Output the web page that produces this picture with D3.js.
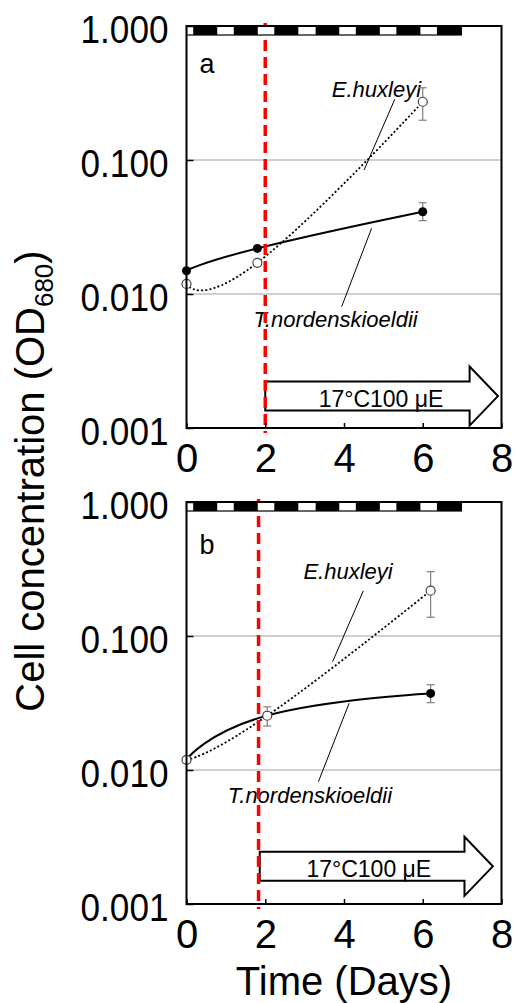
<!DOCTYPE html>
<html>
<head>
<meta charset="utf-8">
<script src="https://cdn.jsdelivr.net/npm/d3@7"></script>
<style>
  body { margin: 0; background: #fff; }
  text { font-family: "Liberation Sans", Arial, sans-serif; }
</style>
</head>
<body>
<script>

// axis ticks
var yTicks = [1, 0.1, 0.01, 0.001];
var xTicks = [0, 2, 4, 6, 8];
var gridValues = [0.1, 0.01];

// light / dark cycle (days), dark parts
var darkPeriods = [[0.17, 0.78], [1.2, 1.81], [2.23, 2.84], [3.28, 3.88], [4.3, 4.91], [5.33, 5.94], [6.36, 6.98]];
var cycleEnd = 6.98;

// panel a
var daysA = [0, 1.8, 6.0];
var tnordA = [0.0149, 0.0219, 0.0411];
var tnordErrA = [null, null, [0.0353, 0.048]];
var ehuxA = [0.0119, 0.0171, 0.272];
var ehuxErrA = [null, null, [0.198, 0.346]];

// panel b
var daysB = [0, 2.05, 6.2];
var tnordB = [0.0119, 0.0255, 0.0373];
var tnordErrB = [null, null, [0.0318, 0.0433]];
var ehuxB = [0.0119, 0.0254, 0.218];
var ehuxErrB = [null, [0.0213, 0.0296], [0.138, 0.302]];

// shift day, arrow [start, head, tip] and its centre value
var shiftDayA = 2.0;
var shiftDayB = 1.83;
var arrowA = [2.0, 7.19, 7.91];
var arrowB = [1.86, 7.06, 7.78];
var arrowValueA = 0.00173;
var arrowValueB = 0.00191;
var arrowText = "17\u00B0C100 \u03BCE";

// species labels: [day, value] of text start, leader from/to
var labelsA = [
  { name: "E.huxleyi", at: [3.69, 0.295], lead: [[5.29, 0.284], [4.51, 0.0842]] },
  { name: "T.nordenskioeldii", at: [1.7, 0.00564], lead: [[4.7, 0.0309], [3.94, 0.00804]] }
];
var labelsB = [
  { name: "E.huxleyi", at: [2.97, 0.265], lead: [[4.49, 0.217], [3.71, 0.0643]] },
  { name: "T.nordenskioeldii", at: [1.05, 0.00564], lead: [[4.13, 0.0315], [3.35, 0.00818]] }
];

var svg = d3.select("body").append("svg")
  .attr("width", 515)
  .attr("height", 1003);

function drawPanel(p) {
  var x = d3.scaleLinear().domain([0, 8]).range([186.5, 501.5]);
  var y = d3.scaleLog().domain([0.001, 1]).range([p.top + 402, p.top]);
  var g = svg.append("g");

  // grid lines
  g.selectAll(".grid")
    .data(gridValues)
    .enter().append("line")
    .attr("x1", x(0)).attr("x2", x(8))
    .attr("y1", function(d) { return y(d); })
    .attr("y2", function(d) { return y(d); })
    .attr("stroke", "#a0a0a0")
    .attr("stroke-width", 1);

  var line = d3.line()
    .x(function(d) { return x(d[0]); })
    .y(function(d) { return y(d[1]); })
    .curve(d3.curveCardinal.tension(-0.5));

  g.append("path")
    .attr("d", line(d3.zip(p.days, p.tnord)))
    .attr("fill", "none")
    .attr("stroke", "#000")
    .attr("stroke-width", 2);

  g.append("path")
    .attr("d", line(d3.zip(p.days, p.ehux)))
    .attr("fill", "none")
    .attr("stroke", "#000")
    .attr("stroke-width", 1.8)
    .attr("stroke-dasharray", "2,2.2");

  // labels with leader lines
  p.labels.forEach(function(l) {
    g.append("line")
      .attr("x1", x(l.lead[0][0])).attr("y1", y(l.lead[0][1]))
      .attr("x2", x(l.lead[1][0])).attr("y2", y(l.lead[1][1]))
      .attr("stroke", "#000")
      .attr("stroke-width", 1);
    g.append("text")
      .attr("x", x(l.at[0]))
      .attr("y", y(l.at[1]))
      .attr("font-size", 22)
      .attr("font-style", "italic")
      .text(l.name);
  });

  // error bars
  function errBars(days, errs) {
    days.forEach(function(d, i) {
      var e = errs[i];
      if (!e) return;
      var cx = x(d);
      g.append("line")
        .attr("x1", cx).attr("x2", cx)
        .attr("y1", y(e[0])).attr("y2", y(e[1]))
        .attr("stroke", "#808080").attr("stroke-width", 1.2);
      e.forEach(function(v) {
        g.append("line")
          .attr("x1", cx - 4).attr("x2", cx + 4)
          .attr("y1", y(v)).attr("y2", y(v))
          .attr("stroke", "#808080").attr("stroke-width", 1.2);
      });
    });
  }
  errBars(p.days, p.tnordErr);
  errBars(p.days, p.ehuxErr);

  // markers
  g.selectAll(".filled")
    .data(d3.zip(p.days, p.tnord))
    .enter().append("circle")
    .attr("cx", function(d) { return x(d[0]); })
    .attr("cy", function(d) { return y(d[1]); })
    .attr("r", 4.5)
    .attr("fill", "#000");

  g.selectAll(".open")
    .data(d3.zip(p.days, p.ehux))
    .enter().append("circle")
    .attr("cx", function(d) { return x(d[0]); })
    .attr("cy", function(d) { return y(d[1]); })
    .attr("r", 4.5)
    .attr("fill", "#fff")
    .attr("stroke", "#444")
    .attr("stroke-width", 1.2);

  // condition arrow
  var xs = x(p.arrow[0]), xh = x(p.arrow[1]), xt = x(p.arrow[2]), yc = y(p.arrowValue);
  var path = d3.path();
  path.moveTo(xs, yc - 14.5);
  path.lineTo(xh, yc - 14.5);
  path.lineTo(xh, yc - 29.5);
  path.lineTo(xt, yc);
  path.lineTo(xh, yc + 29.5);
  path.lineTo(xh, yc + 14.5);
  path.lineTo(xs, yc + 14.5);
  path.closePath();
  g.append("path")
    .attr("d", path.toString())
    .attr("fill", "#fff")
    .attr("stroke", "#000")
    .attr("stroke-width", 2);
  g.append("text")
    .attr("x", x(p.arrowTextDay))
    .attr("y", yc + 10.7)
    .attr("text-anchor", "middle")
    .attr("font-size", 23)
    .text(arrowText);

  // red dashed shift line
  g.append("line")
    .attr("x1", x(p.shift)).attr("x2", x(p.shift))
    .attr("y1", y(1) - 3).attr("y2", y(0.001) + 5)
    .attr("stroke", "#ff0000")
    .attr("stroke-width", 3.5)
    .attr("stroke-dasharray", "11,6");

  // light/dark bar
  g.append("rect")
    .attr("x", x(0)).attr("y", y(1))
    .attr("width", x(cycleEnd) - x(0)).attr("height", 9)
    .attr("fill", "#fff")
    .attr("stroke", "#000")
    .attr("stroke-width", 1.2);
  g.selectAll(".dark")
    .data(darkPeriods)
    .enter().append("rect")
    .attr("x", function(d) { return x(d[0]); })
    .attr("y", y(1))
    .attr("width", function(d) { return x(d[1]) - x(d[0]); })
    .attr("height", 9)
    .attr("fill", "#000");

  // frame
  g.append("rect")
    .attr("x", x(0)).attr("y", y(1))
    .attr("width", x(8) - x(0)).attr("height", y(0.001) - y(1))
    .attr("fill", "none")
    .attr("stroke", "#000")
    .attr("stroke-width", 2);

  // axes
  var yAxis = d3.axisLeft(y)
    .tickValues(yTicks)
    .tickFormat(d3.format(".3f"))
    .tickSizeInner(-7)
    .tickSizeOuter(0)
    .tickPadding(18);
  g.append("g")
    .attr("transform", "translate(" + x(0) + ",0)")
    .call(yAxis)
    .call(function(a) { a.select(".domain").remove(); })
    .call(function(a) { a.selectAll("line").attr("stroke", "#000").attr("stroke-width", 1.5); })
    .call(function(a) {
      a.selectAll("text")
        .attr("fill", "#000")
        .attr("font-size", 39)
        .attr("dy", "0.43em")
        .attr("textLength", 88)
        .attr("lengthAdjust", "spacingAndGlyphs");
    });

  var xAxis = d3.axisBottom(x)
    .tickValues(xTicks)
    .tickFormat(d3.format("d"))
    .tickSizeInner(-5)
    .tickSizeOuter(0)
    .tickPadding(16);
  g.append("g")
    .attr("transform", "translate(0," + y(0.001) + ")")
    .call(xAxis)
    .call(function(a) { a.select(".domain").remove(); })
    .call(function(a) { a.selectAll("line").attr("stroke", "#000").attr("stroke-width", 1.5); })
    .call(function(a) { a.selectAll("text").attr("fill", "#000").attr("font-size", 40); });

  // panel letter
  g.append("text")
    .attr("x", x(0) + 13)
    .attr("y", p.top + p.letterDy)
    .attr("font-size", 27)
    .text(p.letter);
}

drawPanel({
  top: 26, letter: "a", letterDy: 47,
  days: daysA, tnord: tnordA, tnordErr: tnordErrA, ehux: ehuxA, ehuxErr: ehuxErrA,
  shift: shiftDayA, arrow: arrowA, arrowValue: arrowValueA, arrowTextDay: 4.94,
  labels: labelsA
});

drawPanel({
  top: 502, letter: "b", letterDy: 52,
  days: daysB, tnord: tnordB, tnordErr: tnordErrB, ehux: ehuxB, ehuxErr: ehuxErrB,
  shift: shiftDayB, arrow: arrowB, arrowValue: arrowValueB, arrowTextDay: 4.63,
  labels: labelsB
});

// axis titles
svg.append("text")
  .attr("x", 344)
  .attr("y", 995)
  .attr("text-anchor", "middle")
  .attr("font-size", 40)
  .text("Time (Days)");

var yTitle = svg.append("text")
  .attr("transform", "translate(44,481) rotate(-90)")
  .attr("text-anchor", "middle")
  .attr("font-size", 40);
yTitle.append("tspan").text("Cell concentration (OD");
yTitle.append("tspan").attr("font-size", 26).attr("dy", 9).text("680");
yTitle.append("tspan").attr("dy", -9).text(")");

</script>
</body>
</html>
